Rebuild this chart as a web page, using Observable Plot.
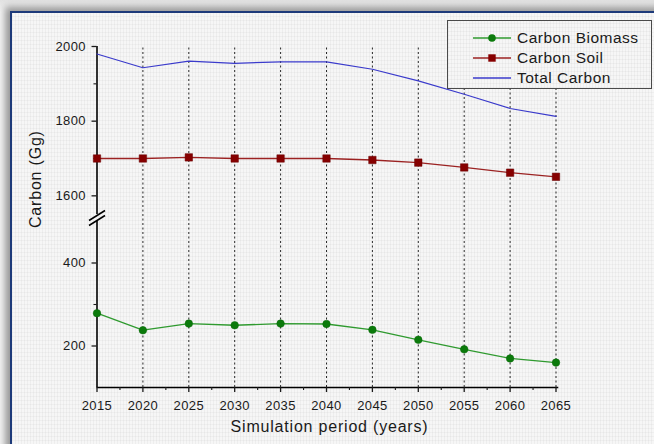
<!DOCTYPE html>
<html>
<head>
<meta charset="utf-8">
<script src="https://cdn.jsdelivr.net/npm/d3@7"></script>
<script src="https://cdn.jsdelivr.net/npm/@observablehq/plot@0.6"></script>
<style>
  html, body { margin: 0; padding: 0; background: #ffffff; }
  #page { position: relative; width: 654px; height: 444px; overflow: hidden; background: linear-gradient(180deg, #e2e2e2 0px, #f5f5f5 12px); }
  #frame {
    position: absolute; left: 10px; top: 11px; width: 720px; height: 520px;
    border: 2px solid #1d3a7a; box-sizing: border-box;
    background-color: #f6f6f6;
    background-image:
      repeating-linear-gradient(90deg, rgba(0,0,0,0.035) 0 1px, transparent 1px 3px),
      repeating-linear-gradient(0deg, rgba(0,0,0,0.03) 0 1px, transparent 1px 4px);
    box-shadow: -5px -4px 7px rgba(0,0,0,0.38);
  }
  #chart { position: absolute; left: 0; top: 0; }
  #legend {
    position: absolute; left: 447px; top: 20px; width: 205px; height: 69px;
    box-sizing: border-box; border: 1.5px solid #4a4a4a;
    background-color: #f6f6f6;
    background-image:
      repeating-linear-gradient(90deg, rgba(0,0,0,0.035) 0 1px, transparent 1px 3px),
      repeating-linear-gradient(0deg, rgba(0,0,0,0.03) 0 1px, transparent 1px 4px);
    font-family: 'Liberation Sans', Arial, sans-serif; font-size: 15.5px; letter-spacing: 0.5px; color: #1a1a1a;
  }
  .row { position: absolute; left: 0; height: 20px; display: flex; align-items: center; }
  .row svg { margin-left: 25px; margin-right: 6px; }
</style>
</head>
<body>
<div id="page">
  <div id="frame"></div>
  <div id="chart"></div>
  <div id="legend"></div>
</div>
<script>
// ---- data ----
const years = [2015, 2020, 2025, 2030, 2035, 2040, 2045, 2050, 2055, 2060, 2065];
const minorYears = [2017.5, 2022.5, 2027.5, 2032.5, 2037.5, 2042.5, 2047.5, 2052.5, 2057.5, 2062.5];
const carbonBiomass = [279, 238, 254, 250, 254, 253, 239, 215, 192, 170, 160];
const carbonSoil = [1700, 1700, 1703, 1700, 1700, 1700, 1696, 1689, 1676, 1662, 1651];
const totalCarbon = [1980, 1943, 1961, 1955, 1959, 1959, 1939, 1908, 1872, 1834, 1813];
const seriesNames = ["Carbon Biomass", "Carbon Soil", "Total Carbon"];
const yMajorTicks = [200, 400, 1600, 1800, 2000];
const yMinorTicks = [300, 1700, 1900];
const yLowerSegment = [100, 500];
const yUpperSegment = [1550, 2000];
const xTitle = "Simulation period (years)";
const yTitle = "Carbon (Gg)";

const colors = {
  biomassLine: "#2f9a2f", biomassDot: "#0b7a0b",
  soilLine: "#9b2222", soilDot: "#860000",
  total: "#3a3acb"
};

const rows = (vals) => years.map((year, i) => ({year, value: vals[i]}));
const biomassRows = rows(carbonBiomass);
const soilRows = rows(carbonSoil);
const totalRows = rows(totalCarbon);

// custom symbol for the axis break marks
const breakSymbol = {
  draw(ctx) {
    ctx.moveTo(-8, 2.5); ctx.lineTo(8, -7.5);
    ctx.moveTo(-8, 7.5); ctx.lineTo(8, -2.5);
  }
};
const breakValue = (yLowerSegment[1] + yUpperSegment[0]) / 2;

const chart = Plot.plot({
  width: 654, height: 444,
  marginLeft: 96.5, marginRight: 98.5, marginTop: 46, marginBottom: 57,
  style: {background: "transparent", fontFamily: "'Liberation Sans', Arial, sans-serif", fontSize: "13px", color: "#1a1a1a", overflow: "visible"},
  x: {domain: [years[0], years[years.length - 1]], range: [96.5, 555.5], axis: null},
  y: {type: "linear", domain: [yLowerSegment[0], yLowerSegment[1], yUpperSegment[0], yUpperSegment[1]], range: [387, 221, 214, 46], axis: null},
  marks: [
    // dotted vertical grid
    Plot.ruleX(years.slice(1), {y1: yLowerSegment[0], y2: yUpperSegment[1], stroke: "#111", strokeWidth: 0.9, strokeDasharray: "2,2.5"}),
    // axes lines
    Plot.ruleY([yLowerSegment[0]], {x1: years[0], x2: years[years.length - 1] + 0.3, stroke: "#000", strokeWidth: 1.6}),
    Plot.ruleX([years[0]], {y1: yLowerSegment[0], y2: yLowerSegment[1], stroke: "#000", strokeWidth: 1.6}),
    Plot.ruleX([years[0]], {y1: yUpperSegment[0], y2: yUpperSegment[1], stroke: "#000", strokeWidth: 1.6}),
    Plot.dot([breakValue], {x: () => years[0], y: d => d, symbol: breakSymbol, r: 5, stroke: "#000", strokeWidth: 1.5, fill: "none"}),
    // ticks
    Plot.axisX(years, {tickSize: 5, tickPadding: 8, tickFormat: d => String(d), fontSize: 13, strokeWidth: 1.3, label: null}),
    Plot.axisX(minorYears, {tickSize: 3, tickFormat: () => "", strokeWidth: 1.1, label: null}),
    Plot.axisY(yMajorTicks, {tickSize: 5, tickPadding: 6, tickFormat: d => String(d), fontSize: 13, strokeWidth: 1.3, label: null}),
    Plot.axisY(yMinorTicks, {tickSize: 3, tickFormat: () => "", strokeWidth: 1.1, label: null}),
    // series
    Plot.line(totalRows, {x: "year", y: "value", stroke: colors.total, strokeWidth: 1.2}),
    Plot.line(soilRows, {x: "year", y: "value", stroke: colors.soilLine, strokeWidth: 1.3}),
    Plot.dot(soilRows, {x: "year", y: "value", symbol: "square", r: 4.2, fill: colors.soilDot, stroke: "#6a0000", strokeWidth: 0.5}),
    Plot.line(biomassRows, {x: "year", y: "value", stroke: colors.biomassLine, strokeWidth: 1.3}),
    Plot.dot(biomassRows, {x: "year", y: "value", r: 3.8, fill: colors.biomassDot, stroke: "#0a6a0a", strokeWidth: 0.5}),
    // titles
    Plot.text([xTitle], {frameAnchor: "bottom", text: d => d, dx: 3, dy: 44.7, fontSize: 16, fill: "#1a1a1a"}),
    Plot.text([yTitle], {frameAnchor: "left", text: d => d, rotate: -90, dx: -61, dy: 11, fontSize: 16, fill: "#1a1a1a"})
  ]
});
document.getElementById("chart").appendChild(chart);

// typography tweaks (font size / spacing of tick labels and titles)
const tickStrings = new Set([...years, ...yMajorTicks].map(String));
chart.querySelectorAll("text").forEach(t => {
  const s = t.textContent;
  if (s === xTitle || s === yTitle) {
    t.style.letterSpacing = "0.8px";
    t.style.fontSize = "16px";
  } else if (tickStrings.has(s)) {
    t.style.fontSize = "13px";
    t.style.letterSpacing = "0.4px";
    t.style.fill = "#1a1a1a";
  }
});

// legend
const legend = document.getElementById("legend");
const legendItems = [
  {name: seriesNames[0], line: colors.biomassLine, marker: "circle", fill: colors.biomassDot},
  {name: seriesNames[1], line: colors.soilLine, marker: "square", fill: colors.soilDot},
  {name: seriesNames[2], line: colors.total, marker: null}
];
legendItems.forEach((it, i) => {
  const row = document.createElement("div");
  row.className = "row";
  row.style.top = (6.5 + i * 20.2) + "px";
  let marker = "";
  if (it.marker === "circle") marker = `<circle cx="19" cy="6" r="3.8" fill="${it.fill}"/>`;
  if (it.marker === "square") marker = `<rect x="15.3" y="2.3" width="7.4" height="7.4" fill="${it.fill}"/>`;
  row.innerHTML = `<svg width="38" height="12"><line x1="0" x2="38" y1="6" y2="6" stroke="${it.line}" stroke-width="1.3"/>${marker}</svg><span>${it.name}</span>`;
  legend.appendChild(row);
});
</script>
</body>
</html>
